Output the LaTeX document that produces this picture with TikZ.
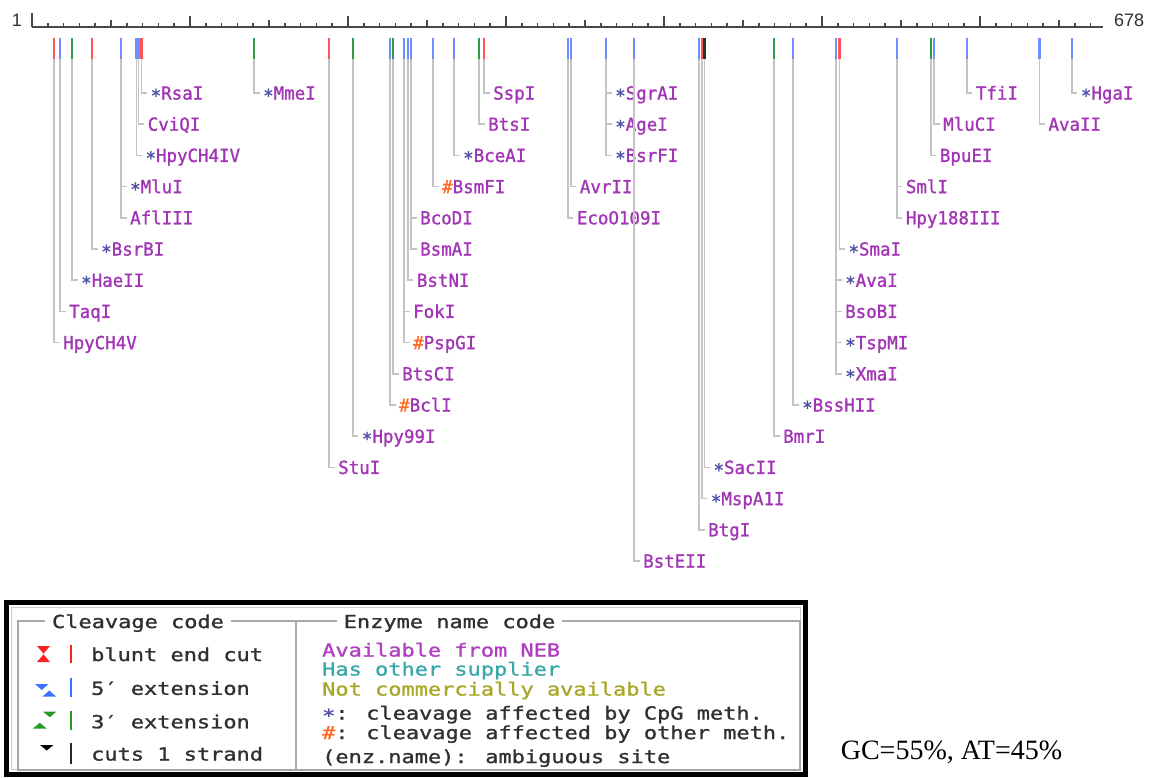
\documentclass[tikz,border=0pt]{standalone}
\usepackage{fontspec}
\newfontfamily\labfont[FakeStretch=0.97,FakeBold=1.2]{DejaVu Sans Mono}
\newfontfamily\legfont[FakeStretch=1.22,FakeBold=1.2]{DejaVu Sans Mono}
\newfontfamily\rulfont{Liberation Sans}
\newfontfamily\gcfont{Liberation Serif}
\definecolor{namec}{HTML}{A235B5}
\definecolor{astc}{HTML}{5050A8}
\definecolor{hashc}{HTML}{FF6A28}
\definecolor{leadc}{HTML}{C4C4C4}
\definecolor{rulc}{HTML}{484848}
\definecolor{mred}{HTML}{FF5555}
\definecolor{mblue}{HTML}{6F8FFF}
\definecolor{mgreen}{HTML}{2CA040}
\definecolor{mdark}{HTML}{203820}
\definecolor{lred}{HTML}{FF2020}
\definecolor{lblue}{HTML}{3A74FF}
\definecolor{lgreen}{HTML}{209A20}
\definecolor{neb}{HTML}{B040C0}
\definecolor{other}{HTML}{3AA8A8}
\definecolor{notc}{HTML}{A8A828}
\definecolor{legtext}{HTML}{303030}
\definecolor{boxgray}{HTML}{A8A8A8}
\newcommand{\astmark}{{\color{astc}\raisebox{-2.5pt}{*}}}
\newcommand{\hashmark}{{\color{hashc}\#}}
\begin{document}
\begin{tikzpicture}[x=1pt,y=-1pt]
\tikzset{
  lead/.style={draw=leadc, line width=1.6},
  lab/.style={anchor=west, inner xsep=3.5, inner ysep=0, text height=13.1, text depth=0,
    font=\labfont\fontsize{18}{18}\selectfont, text=namec},
  cutmark/.style={line width=2.4},
  rul/.style={draw=rulc, line width=1.6},
  legtxt/.style={anchor=west, inner xsep=0, inner ysep=0, text height=13.1, text depth=0,
    font=\legfont\fontsize{18}{18}\selectfont, text=legtext},
  legtitle/.style={inner xsep=7, inner ysep=1, fill=white, text height=13.1, text depth=0,
    font=\legfont\fontsize{18}{18}\selectfont, text=legtext},
  legbar/.style={line width=2},
  gbox/.style={draw=boxgray, line width=1.2}
}
\useasboundingbox (0,0) rectangle (1153,778);
\fill[white] (0,0) rectangle (1153,778);

% ruler
\node[font=\rulfont\fontsize{18}{18}\selectfont, text=legtext, inner sep=0] (one) at (17,20) {1};
\node[font=\rulfont\fontsize{18}{18}\selectfont, text=legtext, inner sep=0] (end) at (1129,20) {678};
\coordinate (r0) at (32,27);
\coordinate (r1) at (1103,27);
\draw[rul, line width=2] (r0) -- (r1);
\draw[rul] (r0) -- ++(0,-14);
\foreach \i in {10,20,...,670}{
  \pgfmathsetmacro\tl{ifthenelse(mod(\i,100)==0,11,ifthenelse(mod(\i,50)==0,7,4))}
  \draw[rul] (32+1.58*\i,27) -- ++(0,-\tl);
}

% enzyme labels and leaders
\foreach \x/\r/\p/\n in {
  54/8/0/HpyCH4V, 60/7/0/TaqI, 72/6/1/HaeII, 92/5/1/BsrBI, 121/4/0/AflIII, 121/3/1/MluI,
  136.3/2/1/HpyCH4IV, 138.6/1/0/CviQI, 141.5/0/1/RsaI, 254/0/1/MmeI,
  329/12/0/StuI, 352.7/11/1/Hpy99I, 390/10/2/BclI, 393/9/0/BtsCI, 404/8/2/PspGI, 404/7/0/FokI,
  407.7/6/0/BstNI, 411/5/0/BsmAI, 411/4/0/BcoDI, 433/3/2/BsmFI, 454/2/1/BceAI, 479/1/0/BtsI, 484/0/0/SspI,
  567.7/4/0/EcoO109I, 570.7/3/0/AvrII, 606/2/1/BsrFI, 606/1/1/AgeI, 606/0/1/SgrAI,
  634/15/0/BstEII, 699/14/0/BtgI, 701.7/13/1/MspA1I, 704.3/12/1/SacII,
  774/11/0/BmrI, 793/10/1/BssHII, 836/9/1/XmaI, 836/8/1/TspMI, 836/7/0/BsoBI, 836/6/1/AvaI, 839.3/5/1/SmaI,
  896.7/4/0/Hpy188III, 896.7/3/0/SmlI, 930.7/2/0/BpuEI, 934/1/0/MluCI, 966.7/0/0/TfiI,
  1039.3/1/0/AvaII, 1071.7/0/1/HgaI}{
  \coordinate (m\n) at (\x,59);
  \node[lab] (\n) at (\x+5.5, 93+31.2*\r) {\ifcase\p\or\astmark\or\hashmark\fi\n};
  \draw[lead] (m\n) |- (\n.west);
}

% cut markers
\foreach \x/\c in {54/mred, 60/mblue, 72/mgreen, 92/mred, 121/mblue, 136.3/mblue, 138.6/mblue, 141.5/mred,
  254/mgreen, 329/mred, 352.7/mgreen, 390/mblue, 393/mgreen, 404/mblue, 407.7/mblue, 411/mblue,
  433/mblue, 454/mblue, 479/mgreen, 484/mred, 567.7/mblue, 570.7/mblue, 606/mblue, 634/mblue,
  699/mblue, 701.7/mred, 704.3/mdark, 774/mgreen, 793/mblue, 836/mblue, 839.3/mred,
  896.7/mblue, 930.7/mgreen, 934/mblue, 966.7/mblue, 1039.3/mblue, 1071.7/mblue}{
  \draw[cutmark, draw=\c] (\x,38) -- (\x,59);
}

% legend frame
\draw[black, line width=5] (6.5,602.5) rectangle (805.5,774.5);
\draw[gray!40, line width=1] (11.5,607.5) rectangle (800.5,769.5);
\draw[gbox] (18,621) rectangle (800,770);
\draw[gbox] (296,621) -- (296,770);
\node[legtitle] (t1) at (138,621.5) {Cleavage code};
\node[legtitle] (t2) at (449.5,621.5) {Enzyme name code};

% cleavage code icons
\fill[lred] (37,646) -- (50,646) -- (43.5,653.6) -- cycle;
\fill[lred] (37,662) -- (50,662) -- (43.5,654.4) -- cycle;
\fill[lblue] (35,684) -- (48.5,684) -- (41.75,690) -- cycle;
\fill[lblue] (42.5,696.5) -- (56,696.5) -- (49.25,690.5) -- cycle;
\fill[lgreen] (43,711.5) -- (56.5,711.5) -- (49.75,717.2) -- cycle;
\fill[lgreen] (33,728.5) -- (46.5,728.5) -- (39.75,722.8) -- cycle;
\fill[black] (40,745) -- (53.5,745) -- (46.75,750.5) -- cycle;
\draw[legbar, lred] (71,645) -- (71,663);
\draw[legbar, lblue] (71,678) -- (71,697);
\draw[legbar, lgreen] (71,711) -- (71,730);
\draw[legbar, black!85] (71,743) -- (71,764);
\node[legtxt] (c1) at (91,654.5) {blunt end cut};
\node[legtxt] (c2) at (91,688.3) {5′ extension};
\node[legtxt] (c3) at (91,721.7) {3′ extension};
\node[legtxt] (c4) at (91,754) {cuts 1 strand};

% enzyme name code
\node[legtxt, text=neb] (e1) at (322,650) {Available from NEB};
\node[legtxt, text=other] (e2) at (322,669) {Has other supplier};
\node[legtxt, text=notc] (e3) at (322,689) {Not commercially available};
\node[legtxt] (e4) at (322,713) {\astmark: cleavage affected by CpG meth.};
\node[legtxt] (e5) at (322,732.5) {\hashmark: cleavage affected by other meth.};
\node[legtxt] (e6) at (322,756.5) {(enz.name): ambiguous site};

% GC content
\node[font=\gcfont\fontsize{28}{28}\selectfont, text=black, inner sep=0] (gc) at (951.5,752) {GC=55\%, AT=45\%};
\end{tikzpicture}
\end{document}
